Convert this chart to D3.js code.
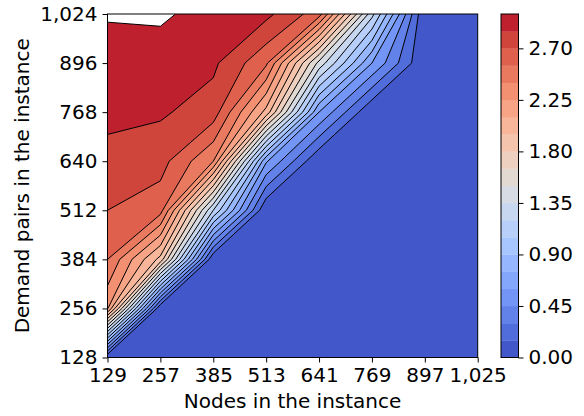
<!DOCTYPE html>
<html>
<head>
<meta charset="utf-8">
<script src="https://cdn.jsdelivr.net/npm/d3@7"></script>
<style>
  body { margin: 0; background: #fff; }
  text { font-family: "DejaVu Sans", sans-serif; }
</style>
</head>
<body>
<svg id="chart" width="584" height="416"></svg>
<script>
// grid axes
const nodes = [129, 257, 385, 513, 641, 769, 897, 1025];
const demands = [128, 256, 384, 512, 640, 768, 896, 1024];

// one row per demand value, one entry per node value
const d128  = [0.00, 0.00, 0.00, 0.00, 0.00, 0.00, 0.00, 0.00];
const d256  = [2.27, 0.00, 0.00, 0.00, 0.00, 0.00, 0.00, 0.00];
const d384  = [2.55, 1.90, 0.00, 0.00, 0.00, 0.00, 0.00, 0.00];
const d512  = [2.70, 2.61, 1.20, 0.00, 0.00, 0.00, 0.00, 0.00];
const d640  = [2.82, 2.76, 2.40, 0.62, 0.00, 0.00, 0.00, 0.00];
const d768  = [2.875, 2.87, 2.78, 2.05, 0.60, 0.00, 0.00, 0.00];
const d896  = [2.95, 2.94, 2.88, 2.58, 1.45, 0.60, 0.00, 0.00];
const d1024 = [3.01, 3.02, 2.95, 2.89, 2.62, 1.25, 0.00, 0.00];
const rows = [d128, d256, d384, d512, d640, d768, d896, d1024];

const levels = d3.range(0, 21).map(i => +(i * 0.15).toFixed(2));
const cbTicks = [0, 0.45, 0.9, 1.35, 1.8, 2.25, 2.7];

// coolwarm colormap stops
const coolwarm = [
  [59,76,192],[68,90,204],[77,104,215],[87,117,225],[98,130,234],[108,142,241],
  [119,154,247],[130,165,251],[141,176,254],[152,185,255],[163,194,255],[174,201,253],
  [184,208,249],[194,213,244],[204,217,238],[213,219,230],[221,221,221],[229,216,209],
  [236,211,197],[241,204,185],[245,196,173],[247,187,160],[247,177,148],[247,166,135],
  [244,154,123],[241,141,111],[236,127,99],[229,112,88],[222,96,77],[213,80,66],
  [203,62,56],[192,40,47],[180,4,38]
].map(c => d3.rgb(c[0], c[1], c[2]).toString());
const cmap = d3.scaleLinear()
  .domain(d3.range(coolwarm.length).map(i => i / (coolwarm.length - 1)))
  .range(coolwarm)
  .interpolate(d3.interpolateRgb);
const vmin = levels[0], vmax = levels[levels.length - 1];
const bandColor = lo => cmap((lo + 0.075 - vmin) / (vmax - vmin));

const svg = d3.select("#chart");
const plot = { left: 107.5, right: 477.7, top: 14, bottom: 357.5 };

const x = d3.scaleLinear().domain([129, 1025]).range([plot.left, plot.right]);
const y = d3.scaleLinear().domain([128, 1024]).range([plot.bottom, plot.top]);

// grid coordinate -> pixel (sample i sits at i + 0.5 in d3.contours space)
const proj = d3.geoTransform({
  point: function(gx, gy) {
    this.stream.point(x(nodes[0] + (gx - 0.5) * 128), y(demands[0] + (gy - 0.5) * 128));
  }
});
const path = d3.geoPath(proj);

const values = [];
rows.forEach(r => r.forEach(v => values.push(v)));

const contours = d3.contours()
  .size([nodes.length, demands.length])
  .thresholds(levels)(values);

svg.append("clipPath").attr("id", "clip")
  .append("rect")
  .attr("x", plot.left).attr("y", plot.top)
  .attr("width", plot.right - plot.left)
  .attr("height", plot.bottom - plot.top);

const area = svg.append("g").attr("clip-path", "url(#clip)");

// filled bands
area.selectAll("path.band")
  .data(contours)
  .enter()
  .append("path")
  .attr("class", "band")
  .attr("d", path)
  .attr("fill", d => d.value >= vmax ? "#fff" : bandColor(d.value))
  .attr("stroke", "none");

// contour lines
area.selectAll("path.line")
  .data(contours.filter(d => d.value > 0))
  .enter()
  .append("path")
  .attr("class", "line")
  .attr("d", path)
  .attr("fill", "none")
  .attr("stroke", "#000")
  .attr("stroke-width", 1);

// frame
svg.append("rect")
  .attr("x", plot.left).attr("y", plot.top)
  .attr("width", plot.right - plot.left)
  .attr("height", plot.bottom - plot.top)
  .attr("fill", "none")
  .attr("stroke", "#000")
  .attr("stroke-width", 1);

// axes
const xAxis = svg.append("g")
  .attr("transform", `translate(0, ${plot.bottom})`)
  .call(d3.axisBottom(x).tickValues(nodes).tickFormat(d3.format(",")).tickSize(5).tickPadding(5));
const yAxis = svg.append("g")
  .attr("transform", `translate(${plot.left}, 0)`)
  .call(d3.axisLeft(y).tickValues(demands).tickFormat(d3.format(",")).tickSize(5).tickPadding(5));
[xAxis, yAxis].forEach(g => {
  g.select(".domain").remove();
  g.selectAll("text").attr("font-size", "20px").attr("fill", "#000").style("font-family", "DejaVu Sans");
  g.selectAll("line").attr("stroke", "#000");
});

// axis labels
svg.append("text")
  .attr("x", (plot.left + plot.right) / 2)
  .attr("y", 408)
  .attr("text-anchor", "middle")
  .attr("font-size", "20px")
  .text("Nodes in the instance");

svg.append("text")
  .attr("transform", `translate(29, ${(plot.top + plot.bottom) / 2}) rotate(-90)`)
  .attr("text-anchor", "middle")
  .attr("font-size", "20px")
  .text("Demand pairs in the instance");

// colorbar
const cb = { left: 501, right: 518.5 };
const cbY = d3.scaleLinear().domain([vmin, vmax]).range([plot.bottom, plot.top]);
svg.append("g").selectAll("rect")
  .data(levels.slice(0, -1))
  .enter()
  .append("rect")
  .attr("x", cb.left)
  .attr("width", cb.right - cb.left)
  .attr("y", d => cbY(d + 0.15))
  .attr("height", d => cbY(d) - cbY(d + 0.15) + 0.3)
  .attr("fill", d => bandColor(d));
svg.append("rect")
  .attr("x", cb.left).attr("y", plot.top)
  .attr("width", cb.right - cb.left)
  .attr("height", plot.bottom - plot.top)
  .attr("fill", "none").attr("stroke", "#000").attr("stroke-width", 1);
const cbAxis = svg.append("g")
  .attr("transform", `translate(${cb.right}, 0)`)
  .call(d3.axisRight(cbY).tickValues(cbTicks).tickFormat(d3.format(".2f")).tickSize(5).tickPadding(5));
cbAxis.select(".domain").remove();
cbAxis.selectAll("text").attr("font-size", "20px").attr("fill", "#000").style("font-family", "DejaVu Sans");
cbAxis.selectAll("line").attr("stroke", "#000");
</script>
</body>
</html>
